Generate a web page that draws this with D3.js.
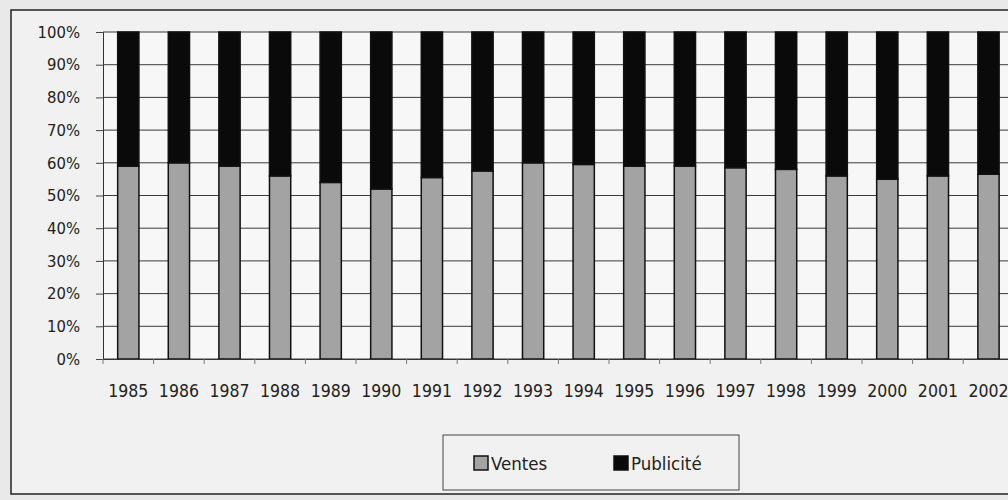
<!DOCTYPE html>
<html><head><meta charset="utf-8">
<script src="https://cdn.jsdelivr.net/npm/d3@7"></script>
<style>
html,body{margin:0;padding:0;background:#e9e9e9;}
svg{display:block;}
text{font-family:"Liberation Sans Narrow","DejaVu Sans Condensed","Arial Narrow",sans-serif;fill:#222;}
</style></head>
<body>
<svg id="c" width="1008" height="500"></svg>
<script>
const years = ["1985","1986","1987","1988","1989","1990","1991","1992","1993","1994","1995","1996","1997","1998","1999","2000","2001","2002"];
const ventes = [59,60,59,56,54,52,55.5,57.5,60,59.5,59,59,58.5,58,56,55,56,56.5];
const publicite = ventes.map(v => 100 - v);
const yTicks = [0,10,20,30,40,50,60,70,80,90,100];
const seriesNames = ["Ventes","Publicité"];
const colors = {"Ventes":"#a3a3a3","Publicité":"#0a0a0a"};

const svg = d3.select("#c");
// outer frame
svg.append("rect").attr("x",11).attr("y",10).attr("width",1010).attr("height",484)
  .attr("fill","#f1f1f1").attr("stroke","#222").attr("stroke-width",1.5);

const pLeft = 103, pTop = 32, pBottom = 359;
const x = d3.scaleBand().domain(years).range([pLeft, pLeft + 50.6*years.length]).paddingInner(0.58).paddingOuter(0.29);
const y = d3.scaleLinear().domain([0,100]).range([pBottom, pTop]);

// plot background
svg.append("rect").attr("x",pLeft).attr("y",pTop).attr("width",1008-pLeft).attr("height",pBottom-pTop).attr("fill","#f7f7f7");

// gridlines + y axis
const yAxis = d3.axisLeft(y).tickValues(yTicks).tickFormat(d => d + "%").tickSize(7).tickPadding(16);
const gy = svg.append("g").attr("transform",`translate(${pLeft},0)`).call(yAxis);
gy.select(".domain").attr("stroke","#333");
gy.selectAll(".tick line").attr("stroke","#444");
gy.selectAll(".tick text").attr("font-size",16.5).style("fill","#222");
svg.append("g").selectAll("line").data(yTicks).join("line")
  .attr("x1",pLeft).attr("x2",1008).attr("y1",d=>y(d)).attr("y2",d=>y(d))
  .attr("stroke","#3a3a3a").attr("stroke-width",1);

// stacked bars
const data = years.map((yr,i)=>({year:yr, Ventes:ventes[i], "Publicité":publicite[i]}));
const stack = d3.stack().keys(seriesNames)(data);
svg.append("g").selectAll("g").data(stack).join("g")
  .attr("fill",d=>colors[d.key])
  .selectAll("rect").data(d=>d).join("rect")
  .attr("x",d=>x(d.data.year)).attr("width",x.bandwidth())
  .attr("y",d=>y(d[1])).attr("height",d=>y(d[0])-y(d[1]))
  .attr("stroke","#111").attr("stroke-width",1.5);

// x axis
const xAxis = d3.axisBottom(x).tickSize(0).tickPadding(26);
const gx = svg.append("g").attr("transform",`translate(0,${pBottom})`).call(xAxis);
gx.select(".domain").attr("stroke","#333");
gx.selectAll(".tick text").attr("font-size",17.5).style("fill","#222");
// boundary ticks
const step = x.step();
svg.append("g").selectAll("line").data(d3.range(years.length+1)).join("line")
  .attr("x1",i=>pLeft+i*step).attr("x2",i=>pLeft+i*step)
  .attr("y1",pBottom).attr("y2",pBottom+5).attr("stroke","#777");

// legend
const lg = svg.append("g");
lg.append("rect").attr("x",443).attr("y",435).attr("width",296).attr("height",55)
  .attr("fill","#f1f1f1").attr("stroke","#444").attr("stroke-width",1);
const items = [{k:"Ventes",x:474},{k:"Publicité",x:614}];
items.forEach(it=>{
  lg.append("rect").attr("x",it.x).attr("y",456).attr("width",14).attr("height",14)
    .attr("fill",colors[it.k]).attr("stroke","#111").attr("stroke-width",1.5);
  lg.append("text").attr("x",it.x+17).attr("y",470).attr("font-size",18.5).text(it.k);
});
</script>
</body></html>
